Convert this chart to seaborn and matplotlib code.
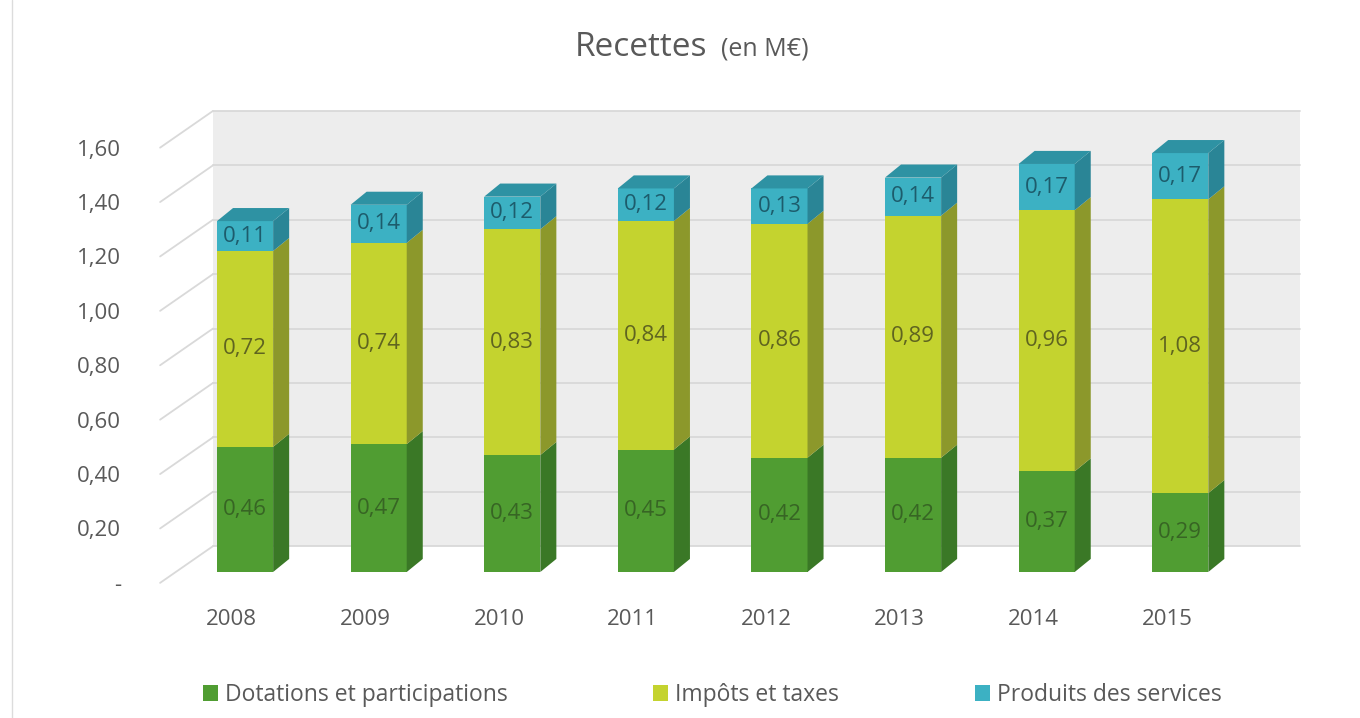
import matplotlib
matplotlib.use("Agg")
import numpy as np
import pandas as pd
import matplotlib.pyplot as plt
from matplotlib.patches import Polygon, Patch
from matplotlib.lines import Line2D
import seaborn as sns

# Data (values in M€)
years = ["2008", "2009", "2010", "2011", "2012", "2013", "2014", "2015"]
dotations = [0.46, 0.47, 0.43, 0.45, 0.42, 0.42, 0.37, 0.29]
impots = [0.72, 0.74, 0.83, 0.84, 0.86, 0.89, 0.96, 1.08]
produits = [0.11, 0.14, 0.12, 0.12, 0.13, 0.14, 0.17, 0.17]
series_names = ["Dotations et participations", "Impôts et taxes", "Produits des services"]
y_ticks = [0, 0.2, 0.4, 0.6, 0.8, 1.0, 1.2, 1.4, 1.6]
y_tick_labels = ["-", "0,20", "0,40", "0,60", "0,80", "1,00", "1,20", "1,40", "1,60"]

front_colors = ["#509d32", "#c4d32f", "#3cb1c3"]
side_colors = ["#3a7826", "#8c982b", "#2a8596"]
top_color = "#2e92a3"
label_colors = ["#376524", "#5f6420", "#1d5c6c"]
text_gray = "#595959"

sns.set_style("white")
plt.rcParams["font.family"] = ["Open Sans", "DejaVu Sans"]


def fmt(v):
    return f"{v:.2f}".replace(".", ",")


df = pd.DataFrame({"Année": years, "dot": dotations, "imp": impots, "prod": produits})
df["level1"] = df["dot"]
df["level2"] = df["dot"] + df["imp"]
df["level3"] = df["level2"] + df["prod"]

fig = plt.figure(figsize=(13.6, 7.18), dpi=100)
ax = fig.add_axes([0.1134, 0.1882, 0.8507, 0.6592])

# fake 3D frame: back wall with gridlines, diagonals to the front plane
wall_x0, wall_x1 = -0.24, 7.9
front_x = -0.636
back_off = 0.095
front_off = -0.04
ax.fill_between([wall_x0, wall_x1], back_off, y_ticks[-1] + back_off,
                color="#ededed", lw=0, zorder=0)
for v in y_ticks:
    ax.plot([wall_x0, wall_x1], [v + back_off] * 2, color="#d9d9d9", lw=1.3, zorder=1)
    ax.plot([front_x, wall_x0], [v + front_off, v + back_off], color="#d9d9d9",
            lw=1.3, zorder=1, clip_on=False)

# stacked bars: totals first, then the lower stacks drawn over them
bar_w = 0.42
for col, c in zip(["level3", "level2", "level1"], front_colors[::-1]):
    sns.barplot(data=df, x="Année", y=col, color=c, width=bar_w, saturation=1,
                errorbar=None, ax=ax, zorder=2, linewidth=0)

# side and top faces
dx, dy = 0.12, 0.048
bottoms = np.array([np.zeros(len(years)), df["level1"], df["level2"]])
tops = np.array([df["level1"], df["level2"], df["level3"]])
values = [dotations, impots, produits]
for i in range(len(years)):
    x0 = i - bar_w / 2
    x1 = i + bar_w / 2
    for k in range(3):
        b, t = bottoms[k][i], tops[k][i]
        ax.add_patch(Polygon([(x1, b), (x1 + dx, b + dy), (x1 + dx, t + dy), (x1, t)],
                             closed=True, facecolor=side_colors[k], lw=0, zorder=3))
        ax.text(i, (b + t) / 2, fmt(values[k][i]), ha="center", va="center",
                fontsize=16, color=label_colors[k], zorder=4)
    t = tops[2][i]
    ax.add_patch(Polygon([(x0, t), (x0 + dx, t + dy), (x1 + dx, t + dy), (x1, t)],
                         closed=True, facecolor=top_color, lw=0, zorder=3))

ax.set_xlim(-0.68, 7.98)
ax.set_ylim(-0.04, 1.70)
ax.set_xlabel("")
ax.set_ylabel("")
# year labels sit on the front plane, a bit left of the bar centres
ax.set_xticks(np.arange(len(years)) - 0.1, years)
ax.set_yticks([v + front_off for v in y_ticks], y_tick_labels)
ax.tick_params(axis="y", length=0, pad=24, labelsize=16, labelcolor=text_gray)
ax.tick_params(axis="x", length=0, pad=19, labelsize=16, labelcolor=text_gray)
for s in ax.spines.values():
    s.set_visible(False)
ax.set_facecolor("none")
ax.grid(False)

# title
fig.text(707 / 1360, 1 - 56 / 718, "Recettes", ha="right", va="baseline",
         fontsize=24, color=text_gray)
fig.text(721 / 1360, 1 - 56 / 718, "(en M€)", ha="left", va="baseline",
         fontsize=18, color=text_gray)

# legend, one entry per slot like the original
legend_x = [203, 653, 975]
for name, c, lx in zip(series_names, front_colors, legend_x):
    fig.legend(handles=[Patch(facecolor=c, edgecolor="none")], labels=[name],
               loc="center left", bbox_to_anchor=(lx / 1360, 1 - 695 / 718),
               frameon=False, fontsize=16.5, handlelength=0.65, handleheight=0.65,
               handletextpad=0.3, borderpad=0, borderaxespad=0, labelcolor=text_gray)

# thin frame line on the left edge
fig.add_artist(Line2D([12 / 1360, 12 / 1360], [0, 1], color="#dcdcdc", lw=1,
                      transform=fig.transFigure))

fig.savefig("out.png", dpi=100)
